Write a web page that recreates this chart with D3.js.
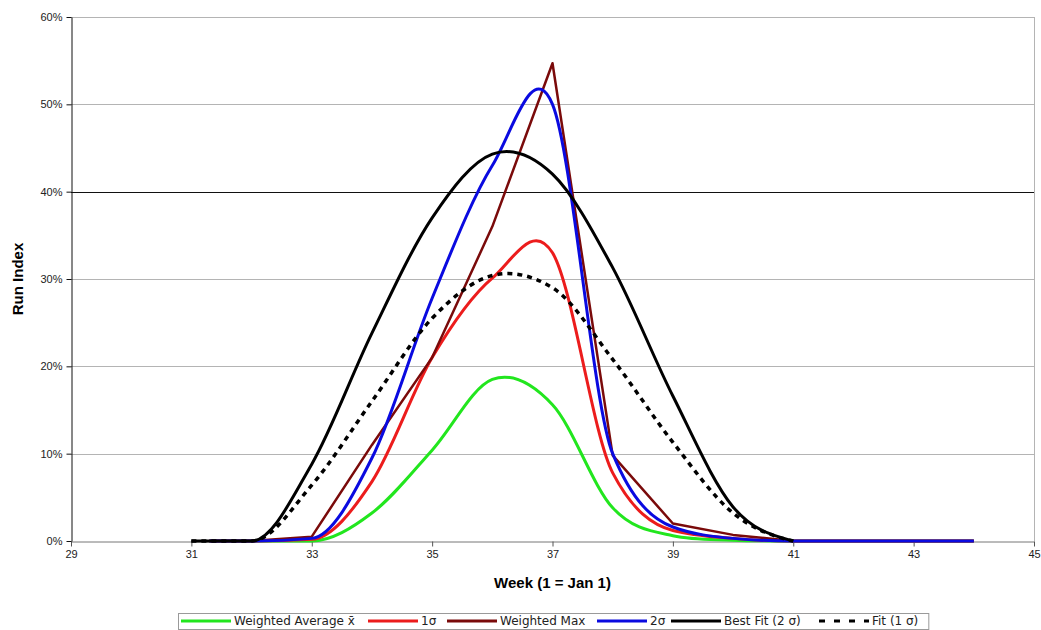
<!DOCTYPE html>
<html>
<head>
<meta charset="utf-8">
<script src="https://cdn.jsdelivr.net/npm/d3@7/dist/d3.min.js"></script>
<style>
  html, body { margin: 0; padding: 0; background: #fff; }
  svg { display: block; }
</style>
</head>
<body>
<svg id="chart" width="1041" height="630"></svg>
<script>
// Weeks at which the observed run series are recorded
const weeks = [31.3, 32, 33, 34, 35, 36, 37, 38, 39, 40, 41, 42, 43, 44];
// Weeks at which the fitted curves are evaluated
const fitWeeks = [31, 32, 33, 34, 35, 36, 37, 38, 39, 40, 41];

// Run index (fraction) per week
const weightedAverage = [0, 0, 0.000, 0.032, 0.104, 0.185, 0.156, 0.038, 0.006, 0.001, 0, 0, 0, 0];
const oneSigma        = [0, 0, 0.002, 0.068, 0.210, 0.301, 0.330, 0.078, 0.012, 0.003, 0, 0, 0, 0];
const weightedMax     = [0, 0, 0.005, 0.110, 0.210, 0.360, 0.547, 0.098, 0.020, 0.007, 0, 0, 0, 0];
const twoSigma        = [0, 0, 0.003, 0.095, 0.278, 0.430, 0.500, 0.100, 0.016, 0.003, 0, 0, 0, 0];
const bestFit2Sigma   = [0, 0, 0.088, 0.238, 0.370, 0.443, 0.420, 0.313, 0.166, 0.039, 0];
const fit1Sigma       = [0, 0, 0.064, 0.160, 0.255, 0.304, 0.290, 0.208, 0.113, 0.032, 0];

const xTicks = [29, 31, 33, 35, 37, 39, 41, 43, 45];
const yTicks = [0, 0.1, 0.2, 0.3, 0.4, 0.5, 0.6];

const seriesNames = ["Weighted Average x\u0304", "1\u03c3", "Weighted Max", "2\u03c3", "Best Fit (2 \u03c3)", "Fit (1 \u03c3)"];

const series = [
  { name: seriesNames[0], xs: weeks,    ys: weightedAverage, color: "#22e61e", width: 3,   dash: null,  curve: "smooth" },
  { name: seriesNames[1], xs: weeks,    ys: oneSigma,        color: "#ec1c1c", width: 3,   dash: null,  curve: "tight" },
  { name: seriesNames[2], xs: weeks,    ys: weightedMax,     color: "#7a0a0a", width: 2.5, dash: null,  curve: "straight" },
  { name: seriesNames[3], xs: weeks,    ys: twoSigma,        color: "#0a0ae0", width: 3,   dash: null,  curve: "tight" },
  { name: seriesNames[4], xs: fitWeeks, ys: bestFit2Sigma,   color: "#000000", width: 3,   dash: null,  curve: "smooth" },
  { name: seriesNames[5], xs: fitWeeks, ys: fit1Sigma,       color: "#000000", width: 3.5, dash: "5,5", curve: "smooth" }
];

// Smoothing curve: Catmull-Rom style tangents at peaks, tangents limited to
// k times the smaller neighbouring slope on rising/falling stretches, so flat
// runs never dip below zero.
function smoothRun(k) {
  function SmoothRun(context) { this._context = context; }
  SmoothRun.prototype = {
    areaStart() {}, areaEnd() {},
    lineStart() { this._px = []; this._py = []; },
    point(px, py) { this._px.push(+px); this._py.push(+py); },
    lineEnd() {
      const xs = this._px, ys = this._py, n = xs.length, c = this._context;
      if (!n) return;
      c.moveTo(xs[0], ys[0]);
      if (n === 1) return;
      const h = [], s = [];
      for (let i = 0; i < n - 1; i++) {
        h[i] = xs[i + 1] - xs[i];
        s[i] = (ys[i + 1] - ys[i]) / h[i];
      }
      const m = new Array(n);
      m[0] = s[0] * 0.5;
      m[n - 1] = s[n - 2] * 0.5;
      for (let i = 1; i < n - 1; i++) {
        const s0 = s[i - 1], s1 = s[i];
        const p = (s0 * h[i] + s1 * h[i - 1]) / (h[i - 1] + h[i]);
        if (s0 * s1 > 0) {
          m[i] = Math.sign(s0) * Math.min(k * Math.abs(s0), k * Math.abs(s1), Math.abs(p));
        } else if (s0 * s1 < 0) {
          m[i] = p;
        } else {
          m[i] = 0;
        }
      }
      for (let i = 0; i < n - 1; i++) {
        const d = h[i] / 3;
        c.bezierCurveTo(xs[i] + d, ys[i] + m[i] * d, xs[i + 1] - d, ys[i + 1] - m[i + 1] * d, xs[i + 1], ys[i + 1]);
      }
    }
  };
  return ctx => new SmoothRun(ctx);
}

const lines = {
  tight: d3.line().curve(smoothRun(2)),
  smooth: d3.line().curve(smoothRun(3)),
  straight: d3.line().curve(d3.curveLinear)
};

const svg = d3.select("#chart");
const plotL = 71, plotR = 1034, plotT = 17, plotB = 541;

const x = d3.scaleLinear().domain([29, 45]).range([plotL, plotR]);
const y = d3.scaleLinear().domain([0, 0.6]).range([plotB, plotT]);

// horizontal gridlines (the 40% line is drawn dark)
svg.append("g").selectAll("line")
  .data(yTicks.filter(d => d > 0))
  .join("line")
  .attr("x1", plotL).attr("x2", plotR)
  .attr("y1", d => Math.round(y(d)) + 0.5).attr("y2", d => Math.round(y(d)) + 0.5)
  .attr("stroke", d => Math.abs(d - 0.4) < 1e-9 ? "#111" : "#b4b4b4")
  .attr("stroke-width", 1);

// right edge of plot area
svg.append("line")
  .attr("x1", plotR + 0.5).attr("x2", plotR + 0.5)
  .attr("y1", plotT).attr("y2", plotB)
  .attr("stroke", "#b4b4b4");

// x axis
const xAxis = svg.append("g")
  .attr("transform", `translate(0,${Math.round(plotB) + 0.5})`)
  .call(d3.axisBottom(x).tickValues(xTicks).tickFormat(d3.format("d")).tickSize(5).tickPadding(4).tickSizeOuter(0));
xAxis.select(".domain").attr("stroke", "#777");
xAxis.selectAll(".tick line").attr("stroke", "#555");
xAxis.selectAll("text").attr("font-family", "Liberation Sans, Arial, sans-serif").attr("font-size", 11).attr("fill", "#222");

// y axis
const yAxis = svg.append("g")
  .attr("transform", `translate(${plotL + 0.5},0)`)
  .call(d3.axisLeft(y).tickValues(yTicks).tickFormat(d3.format(".0%")).tickSize(5).tickPadding(4).tickSizeOuter(0));
yAxis.select(".domain").attr("stroke", "#111");
yAxis.selectAll(".tick line").attr("stroke", "#111");
yAxis.selectAll("text").attr("font-family", "Liberation Sans, Arial, sans-serif").attr("font-size", 11).attr("fill", "#222");

// series lines
const gSeries = svg.append("g");
series.forEach(s => {
  const pts = s.xs.map((w, i) => [x(w), y(s.ys[i])]);
  gSeries.append("path")
    .attr("d", lines[s.curve](pts))
    .attr("fill", "none")
    .attr("stroke", s.color)
    .attr("stroke-width", s.width)
    .attr("stroke-linejoin", "round")
    .attr("stroke-dasharray", s.dash);
});

// axis titles
svg.append("text")
  .attr("x", (plotL + plotR) / 2).attr("y", 588)
  .attr("text-anchor", "middle")
  .attr("font-family", "Liberation Sans, Arial, sans-serif")
  .attr("font-weight", "bold").attr("font-size", 15)
  .text("Week (1 = Jan 1)");

svg.append("text")
  .attr("transform", `translate(23,${(plotT + plotB) / 2}) rotate(-90)`)
  .attr("text-anchor", "middle")
  .attr("font-family", "Liberation Sans, Arial, sans-serif")
  .attr("font-weight", "bold").attr("font-size", 15)
  .text("Run Index");

// legend: each entry is a 50px line sample followed by its label
const legendStarts = [181, 368, 447, 597, 671, 819];
const legend = svg.append("g");
const box = legend.append("rect")
  .attr("fill", "#fff").attr("stroke", "#9a9a9a").attr("stroke-width", 1);
const ly = 621;
let legendEnd = 0;
series.forEach((s, i) => {
  const lx = legendStarts[i];
  legend.append("line")
    .attr("x1", lx).attr("x2", lx + 50)
    .attr("y1", ly).attr("y2", ly)
    .attr("stroke", s.color).attr("stroke-width", 3)
    .attr("stroke-dasharray", s.dash ? "6,9" : null);
  const t = legend.append("text")
    .attr("x", lx + 53).attr("y", ly + 4)
    .attr("font-family", "DejaVu Sans, Verdana, sans-serif")
    .attr("font-size", 12).attr("fill", "#222")
    .text(s.name);
  legendEnd = lx + 53 + t.node().getComputedTextLength();
});
box.attr("x", 178.5).attr("y", 613.5).attr("width", legendEnd + 10 - 178).attr("height", 16);
</script>
</body>
</html>
